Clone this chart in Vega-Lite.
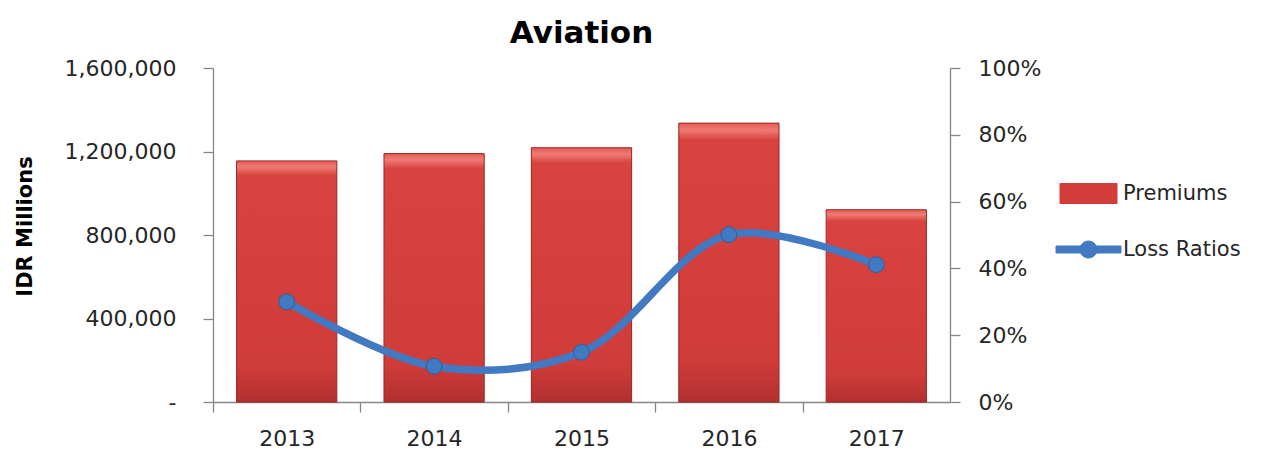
{
  "$schema": "https://vega.github.io/schema/vega-lite/v6.json",
  "width": 737,
  "height": 334,
  "autosize": {"type": "none"},
  "padding": {"left": 213, "top": 68, "right": 315, "bottom": 52},
  "background": "white",
  "title": {"text": "Aviation", "fontSize": 31, "font": "DejaVu Sans", "fontWeight": "bold", "color": "#000000", "anchor": "middle", "baseline": "alphabetic", "offset": -17},
  "config": {
    "view": {"stroke": null},
    "axis": {"labelFont": "DejaVu Sans", "labelFontSize": 22, "labelColor": "#262626", "domainColor": "#868686", "tickColor": "#868686", "grid": false, "tickSize": 10, "domainWidth": 1.3, "tickWidth": 1.3}
  },
  "data": {"values": [
    {"year": "2013", "premiums": 1155000, "loss_ratio": 0.300},
    {"year": "2014", "premiums": 1190000, "loss_ratio": 0.107},
    {"year": "2015", "premiums": 1218000, "loss_ratio": 0.149},
    {"year": "2016", "premiums": 1336000, "loss_ratio": 0.501},
    {"year": "2017", "premiums": 921000, "loss_ratio": 0.411}
  ]},
  "encoding": {
    "x": {"field": "year", "type": "ordinal", "scale": {"paddingInner": 0.32, "paddingOuter": 0.16}, "axis": {"title": null, "labelAngle": 0, "bandPosition": 0, "tickOffset": -23.6, "labelOffset": 23.6, "labelPadding": 16}}
  },
  "layer": [
    {
      "mark": {"type": "bar", "color": {"gradient": "linear", "x1": 0, "y1": 0, "x2": 0, "y2": 1, "stops": [
        {"offset": 0, "color": "#e35a55"},
        {"offset": 0.025, "color": "#f07b74"},
        {"offset": 0.06, "color": "#d8433f"},
        {"offset": 0.85, "color": "#d03c39"},
        {"offset": 1, "color": "#b23030"}]}, "stroke": "#9b2422", "strokeWidth": 1},
      "encoding": {
        "y": {"field": "premiums", "type": "quantitative", "scale": {"domain": [0, 1600000], "nice": false},
          "axis": {"values": [0, 400000, 800000, 1200000, 1600000], "labelExpr": "datum.value === 0 ? '-\u00a0\u00a0' : format(datum.value, ',')", "labelPadding": 27,
            "title": "IDR Millions", "titleFont": "DejaVu Sans", "titleFontSize": 21, "titleFontWeight": "bold", "titleColor": "#000000", "titleAngle": -90, "titleX": -188, "titleY": 158, "titleAlign": "center", "titleBaseline": "middle"}}
      }
    },
    {
      "mark": {"type": "line", "interpolate": "catmull-rom", "strokeWidth": 7.5, "point": {"filled": true, "size": 250, "stroke": "#2b5f9e", "strokeWidth": 1}},
      "encoding": {
        "y": {"field": "loss_ratio", "type": "quantitative", "scale": {"domain": [0, 1], "nice": false},
          "axis": {"orient": "right", "values": [0, 0.2, 0.4, 0.6, 0.8, 1], "format": ".0%", "labelPadding": 18, "title": null}},
        "color": {"datum": "Loss Ratios", "type": "nominal", "scale": {"domain": ["Premiums", "Loss Ratios"], "range": ["#d23c39", "#4179c3"]},
          "legend": {"title": null, "orient": "none", "legendX": 865, "legendY": 115, "symbolSize": 400, "labelFont": "DejaVu Sans", "labelFontSize": 21, "labelColor": "#262626", "labelOffset": 24, "rowPadding": 32, "padding": 0,
            "encode": {"symbols": {"update": {
              "shape": {"signal": "datum.value === 'Premiums' ? 'M-2.85,-1H2.85V1H-2.85Z' : 'M-3.25,-0.35H-0.7V0.35H-3.25Z M0.7,-0.35H3.25V0.35H0.7Z M-0.85,0A0.85,0.85 0 1 1 0.85,0A0.85,0.85 0 1 1 -0.85,0Z'"},
              "fill": {"signal": "datum.value === 'Premiums' ? '#d23c39' : '#4179c3'"},
              "stroke": {"signal": "datum.value === 'Premiums' ? '#9b2422' : '#4179c3'"},
              "strokeWidth": {"value": 1},
              "opacity": {"value": 1},
              "fillOpacity": {"value": 1}}}}}}
      }
    }
  ],
  "resolve": {"scale": {"y": "independent"}}
}
